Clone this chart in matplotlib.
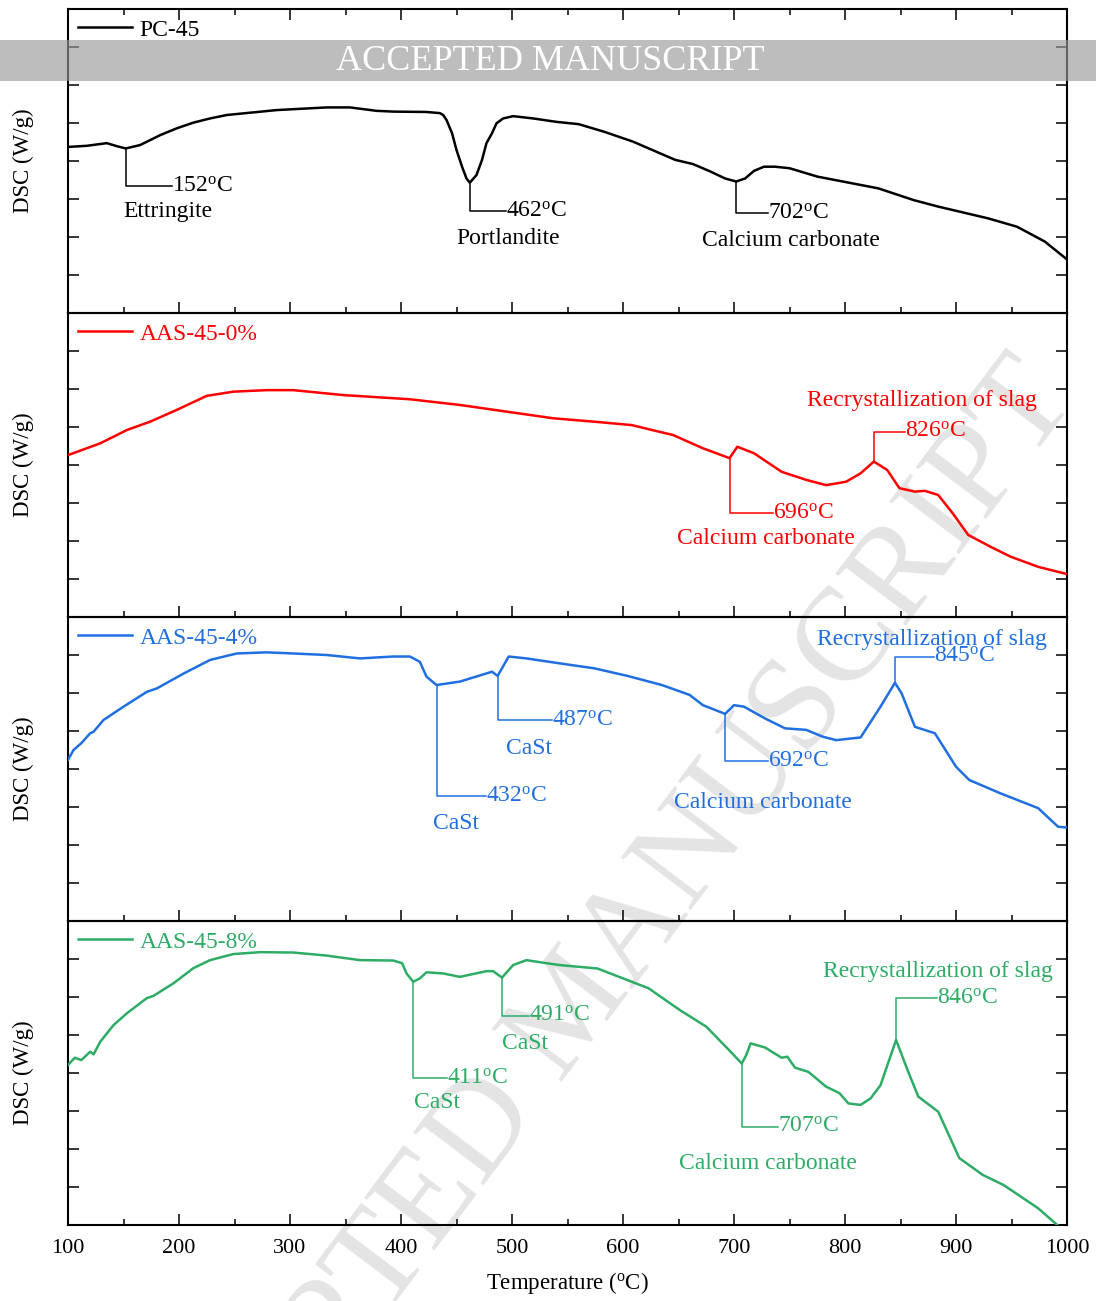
import matplotlib
matplotlib.use("Agg")
import matplotlib.pyplot as plt
import numpy as np
from matplotlib.patches import Rectangle
from matplotlib.ticker import MultipleLocator

plt.rcParams["font.family"] = ["Liberation Serif", "DejaVu Serif"]
plt.rcParams["mathtext.fontset"] = "custom"
plt.rcParams["mathtext.rm"] = "Liberation Serif"
plt.rcParams["mathtext.it"] = "Liberation Serif:italic"

# ---- data (temperature in C, DSC in tick units) ----
pc45_t = [100, 117, 135, 144, 152, 165, 183, 198, 213, 228, 243, 288, 333, 354, 378,
          393, 423, 435, 438, 441, 446, 450, 455, 459, 462, 468, 473, 477, 482, 486,
          492, 501, 519, 540, 560, 583, 609, 647, 663, 679, 692, 702, 710, 718, 727,
          737, 750, 775, 814, 830, 862, 884, 929, 955, 980, 1000]
pc45_dsc = [4.37, 4.40, 4.47, 4.39, 4.33, 4.42, 4.68, 4.86, 5.01, 5.12, 5.21, 5.34, 5.41, 5.41, 5.32,
            5.30, 5.29, 5.26, 5.21, 5.08, 4.73, 4.29, 3.85, 3.54, 3.43, 3.63, 4.03, 4.47, 4.73, 4.99,
            5.12, 5.18, 5.12, 5.03, 4.97, 4.77, 4.51, 4.03, 3.92, 3.72, 3.54, 3.46, 3.54, 3.74, 3.85,
            3.85, 3.81, 3.59, 3.37, 3.28, 2.97, 2.80, 2.49, 2.27, 1.88, 1.41]

aas0_t = [100, 129, 153, 174, 198, 225, 249, 279, 303, 348, 408, 453, 537, 574, 608,
          629, 645, 672, 696, 703, 718, 743, 765, 783, 801, 814, 826, 838, 849, 863,
          872, 884, 897, 911, 931, 949, 974, 1000]
aas0_dsc = [4.26, 4.57, 4.92, 5.14, 5.45, 5.82, 5.93, 5.97, 5.97, 5.84, 5.73, 5.58, 5.23, 5.14, 5.05,
            4.90, 4.79, 4.44, 4.18, 4.48, 4.31, 3.82, 3.61, 3.47, 3.56, 3.78, 4.09, 3.87, 3.39, 3.30,
            3.32, 3.21, 2.73, 2.16, 1.85, 1.59, 1.32, 1.13]

aas4_t = [100, 105, 112, 120, 123, 132, 150, 171, 180, 204, 228, 252, 279, 303, 333,
          363, 393, 408, 417, 423, 432, 453, 482, 487, 491, 497, 513, 543, 574, 604,
          635, 660, 672, 692, 700, 709, 728, 746, 765, 780, 792, 814, 832, 845, 851,
          863, 881, 900, 912, 940, 974, 992, 1000]
aas4_dsc = [4.24, 4.50, 4.68, 4.94, 4.98, 5.29, 5.64, 6.03, 6.12, 6.51, 6.87, 7.04, 7.07, 7.04, 7.00,
            6.91, 6.96, 6.96, 6.82, 6.43, 6.21, 6.30, 6.56, 6.45, 6.65, 6.96, 6.91, 6.78, 6.65, 6.45,
            6.21, 5.95, 5.68, 5.45, 5.68, 5.64, 5.33, 5.07, 5.03, 4.85, 4.76, 4.83, 5.64, 6.27, 5.99,
            5.11, 4.94, 4.06, 3.71, 3.36, 2.97, 2.48, 2.46]

aas8_t = [100, 106, 112, 120, 123, 129, 141, 153, 171, 177, 195, 213, 228, 249, 273,
          303, 333, 363, 393, 401, 405, 411, 417, 423, 438, 453, 477, 483, 491, 501,
          513, 531, 543, 577, 623, 651, 675, 697, 707, 711, 715, 728, 743, 748, 755,
          767, 783, 795, 803, 814, 823, 832, 846, 857, 866, 884, 903, 924, 943, 974,
          992, 1000]
aas8_dsc = [4.21, 4.40, 4.34, 4.56, 4.49, 4.82, 5.26, 5.57, 5.97, 6.03, 6.36, 6.76, 6.97, 7.13, 7.18,
            7.17, 7.09, 6.97, 6.96, 6.89, 6.62, 6.40, 6.49, 6.65, 6.62, 6.53, 6.68, 6.68, 6.51, 6.84,
            6.97, 6.89, 6.84, 6.75, 6.23, 5.66, 5.22, 4.56, 4.25, 4.47, 4.78, 4.67, 4.40, 4.43, 4.14,
            4.03, 3.64, 3.47, 3.20, 3.16, 3.33, 3.68, 4.87, 4.03, 3.38, 2.98, 1.76, 1.32, 1.05, 0.44,
            -0.02, -0.2]

sample_names = ["PC-45", "AAS-45-0%", "AAS-45-4%", "AAS-45-8%"]
sample_colors = ["black", "#ff0000", "#1f6fe0", "#2dac66"]

# peak temperatures and the phase assigned to each peak
pc45_peaks = [152, 462, 702]
pc45_phases = ["Ettringite", "Portlandite", "Calcium carbonate"]
aas0_peaks = [696, 826]
aas0_phases = ["Calcium carbonate", "Recrystallization of slag"]
aas4_peaks = [432, 487, 692, 845]
aas4_phases = ["CaSt", "CaSt", "Calcium carbonate", "Recrystallization of slag"]
aas8_peaks = [411, 491, 707, 846]
aas8_phases = ["CaSt", "CaSt", "Calcium carbonate", "Recrystallization of slag"]

# annotation layout: (bracket level, end of horizontal leg, phase label x, phase label y)
pc45_layout = [(3.34, 194, 150, 2.66), (2.68, 495, 450, 1.97), (2.63, 731, 671, 1.92)]
aas0_layout = [(2.73, 735, 649, 2.07), (4.88, 854, 766, 5.71)]
aas4_layout = [(3.29, 477, 429, 2.57), (5.29, 536, 495, 4.54), (4.21, 731, 646, 3.11),
               (6.96, 880, 775, 7.42)]
aas8_layout = [(3.86, 441, 412, 3.23), (5.51, 515, 491, 4.78), (2.59, 740, 650, 1.62),
               (5.97, 883, 780, 6.67)]

series = [
    (pc45_t, pc45_dsc, pc45_peaks, pc45_phases, pc45_layout),
    (aas0_t, aas0_dsc, aas0_peaks, aas0_phases, aas0_layout),
    (aas4_t, aas4_dsc, aas4_peaks, aas4_phases, aas4_layout),
    (aas8_t, aas8_dsc, aas8_peaks, aas8_phases, aas8_layout),
]

W, H = 1096, 1301
fig = plt.figure(figsize=(W / 100, H / 100), dpi=100)

left = 68 / W
width = (1067 - 68) / W
ph = 304 / H
fs = 17

axes = []
for i, (t, d, peaks, phases, layout) in enumerate(series):
    bottom = 1 - (313 + 304 * i) / H
    ax = fig.add_axes([left, bottom, width, ph])
    ax.patch.set_visible(False)
    color = sample_colors[i]
    ax.plot(t, d, color=color, lw=1.8, label=sample_names[i], zorder=3)
    for T, phase, (yb, xe, nx, ny) in zip(peaks, phases, layout):
        yc = np.interp(T, t, d)
        ax.plot([T, T, xe], [yc, yb, yb], color=color, lw=1.1, zorder=2)
        ax.text(xe, yb, f"{T}$^\\mathrm{{o}}$C", color=color, fontsize=fs,
                ha="left", va="center")
        ax.text(nx, ny, phase, color=color, fontsize=fs, ha="left", va="center")

    ax.set_xlim(100, 1000)
    ax.set_ylim(0, 8)
    ax.xaxis.set_major_locator(MultipleLocator(100))
    ax.xaxis.set_minor_locator(MultipleLocator(50))
    ax.yaxis.set_major_locator(MultipleLocator(1))
    ax.tick_params(axis="both", which="both", direction="in", right=True,
                   top=(i == 0), labelleft=False, width=1.1)
    ax.tick_params(axis="both", which="major", length=8)
    ax.tick_params(axis="x", which="minor", length=4)
    ax.tick_params(axis="x", labelsize=16, pad=10)
    if i < 3:
        ax.tick_params(axis="x", labelbottom=False)
    for s in ax.spines.values():
        s.set_linewidth(1.5)
    ax.set_ylabel("DSC (W/g)", fontsize=16.5)
    ax.yaxis.set_label_coords(-0.034, 0.5)

    ax.legend(loc="upper left", frameon=False, fontsize=fs, handlelength=2.3,
              handletextpad=0.3, borderaxespad=0.28, borderpad=0.15,
              labelcolor="linecolor")
    axes.append(ax)

axes[-1].set_xlabel("Temperature ($^\\mathrm{o}$C)", fontsize=16.5, labelpad=9)

# manuscript watermark and banner
fig.text(575 / W, 1 - 1010 / H, "ACCEPTED MANUSCRIPT", fontsize=96, color="#e4e4e4",
         rotation=53, ha="center", va="center", zorder=-1)
fig.patches.append(Rectangle((0, 1 - 81 / H), 1, 41 / H, transform=fig.transFigure,
                             facecolor="#9a9a9a", alpha=0.65, edgecolor="none", zorder=5))
fig.text(550 / W, 1 - 61 / H, "ACCEPTED MANUSCRIPT", fontsize=26, color="white",
         ha="center", va="center", zorder=6)

fig.savefig("out.png", dpi=100)
